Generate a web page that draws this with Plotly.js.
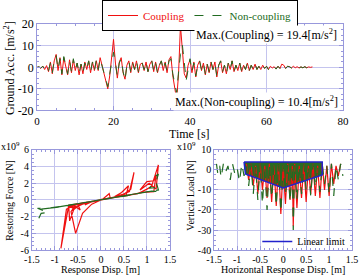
<!DOCTYPE html>
<html>
<head>
<meta charset="utf-8">
<script src="https://cdn.plot.ly/plotly-3.0.1.min.js"></script>
<style>html,body{margin:0;padding:0;background:#fff;}#chart{width:363px;height:276px;}</style>
</head>
<body>
<div id="chart"></div>
<script>
// ---- Ground acceleration time histories (m/s^2), sampled every 0.5 s from t = 0 ----
const coupling = [
  0, 0.2, -0.5, 0.6, -1, 0.8, -2, 2.5, -3, 3,
  6, -1.5, 4.5, -3.5, 4.5, 1, -3.5, 3.5, -2.5, 3.5,
  -1.5, 2, -3.5, 1.5, -3, 2.5, -1, 3, -2.5, 2.5,
  -1.5, 3, -1.5, 4.5, 0.5, -3.5, -6, -10, -4, 4,
  13, 2, -5, 2.5, 4.5, -2.5, -5.5, 1, 3, -2.5,
  2.5, -1, 3, -2.5, 1.5, 2, -1.5, 2.5, -2, 1.5,
  3, -2, 2.5, -2.5, 1, 3, -1.5, 2.5, -2.5, 3.5,
  5, -4, -9, -15, -3, 19.4, 8, -3, -5, 1,
  3.5, -2.5, 2.5, -4.5, 1, 3, -1.5, 2, -3.5, 1.5,
  -2.5, 2.5, -1, 2.5, -4.5, 1, 3, -2.5, 1, -3,
  2, -1, 3, -2, 1, -1.5, 2, -2, 1, -1,
  2, -1.5, 1, -1, 1.5, -1, 0.5, -1, 1, -0.5,
  0.5, -1, 0.5, -0.3, 0.3, -0.8, 0.5, -0.5, 1.5, 1,
  -0.5, 0.5, 0.3, -0.3, 0.5, -0.2, 0.3, -0.3, 0.2, -0.2,
  0.3, -0.2, 0.2, 0, 0.2
];
const nonCoupling = [
  0, 0.3, -0.3, 0.5, -0.8, 0.6, -1.5, 2, -2.5, 3.5,
  5.5, -1, 4, -3, 5, 1, -3, 3, -2, 4,
  -1, 2, -3, 1.5, -2.5, 2, -1, 3, -2, 2.5,
  -1.5, 3.5, -1, 4, 1, -3, -5, -9, -3, 3,
  7, 2, -4, 2, 4, -2, -6, 1, 3, -2,
  2, -1, 3, -2, 1.5, 2, -1, 2.5, -2, 1,
  3, -1.5, 2, -2.5, 1, 3, -1, 2, -2, 3,
  4, -3, -7, -12, -2, 6, 10.4, 3, -6, -1,
  4, -2, 2, -4, 1, 3, -1, 2, -3, 1.5,
  -2, 2.5, -1, 2, -4, 1, 3, -2, 1, -3,
  2, -1, 3, -2, 1, -1.5, 2, -2, 1, -1,
  2, -1.5, 1, -1, 1.5, -1, 0.5, -1, 1, -0.5,
  0.5, -1, 0.5, -0.3, 0.3, -0.8, 0.5, -0.5, 1.5, 1,
  -0.5, 0.5, 0.3, -0.3, 0.5, -0.2, 0.3, -0.3, 0.2, -0.2,
  0.3, -0.2, 0.2, 0, 0.2
];
const timeStart = 0, timeStep = 0.5;

// ---- Restoring force (x10^9 N) vs response displacement (m) ----
const hystRedDisp = [0, 0.1, 0.2, 0.18, 0.05, -0.1, -0.25, -0.35, -0.2, -0.4,
  -0.5, -0.45, -0.6, -0.72, -0.6, -0.4, -0.2, 0, 0.2, 0.4,
  0.55, 0.6, 0.45, 0.3, 0.5, 0.65, 0.72, 0.62, 0.4, 0.1,
  -0.3, -0.55, -0.7, -0.87, -0.75, -0.55, -0.65, -0.55, -0.4, -0.2,
  0, 0.3, 0.6, 0.8, 1.0, 1.1, 1.25, 1.2, 1.05, 0.85,
  1.0, 1.15, 1.2, 1.15, 0.9, 0.6, 0.3, 0, -0.3, -0.6,
  -0.62, -0.45, -0.7, -0.68, -0.55, -0.3, 0];
const hystRedForce = [0, 0.15, 0.3, 0.75, 0.15, -0.1, -0.3, -0.6, -0.2, -0.4,
  -0.55, -1.2, -0.6, -0.7, -1.0, -0.5, -0.2, 0, 0.25, 0.45,
  0.6, 1.7, 0.9, 0.4, 0.7, 1.3, 3.3, 1.0, 0.5, 0.1,
  -0.3, -0.5, -0.65, -5.8, -1.1, -0.6, -1.4, -4.0, -1.6, -0.5,
  0, 0.3, 0.55, 0.75, 1.3, 1.6, 4.2, 1.3, 2.0, 1.2,
  2.2, 2.3, 3.0, 1.0, 0.9, 0.55, 0.3, 0, -0.3, -0.6,
  -1.3, -0.5, -0.75, -2.5, -0.55, -0.35, 0];
const hystGreenDisp = [-1.35, -1.3, -1.15, -1.38, -1.2, -0.9, -0.5, 0, 0.5, 1.0,
  1.25, 1.22, 1.15, 1.25, 1.2, 1.05, 1.2, 1.27, 1.1, 0.6,
  0, -0.6, -1.0, -1.3, -1.1, -0.5, 0, 0.6, 1.1, 1.0];
const hystGreenForce = [-2.2, -1.6, -1.5, -1.0, -1.05, -0.85, -0.45, 0, 0.5, 0.95,
  1.2, 1.8, 2.7, 3.1, 2.2, 1.4, 1.5, 1.0, 1.05, 0.6,
  0, -0.55, -0.9, -1.1, -0.95, -0.45, 0, 0.55, 1.1, 1.0];

// ---- Vertical load (x10^9 N) vs horizontal response displacement (m) ----
const vertRedDisp = [-0.8, -0.75, -0.7, -0.65, -0.6, -0.55, -0.5, -0.45, -0.4, -0.35,
  -0.3, -0.25, -0.2, -0.15, -0.1, -0.05, 0, 0.05, 0.1, 0.15,
  0.2, 0.22, 0.25, 0.3, 0.35, 0.4, 0.45, 0.5, 0.55, 0.6,
  0.65, 0.7, 0.75, 0.8, 0.85, 0.9, 0.95, 1.0, 1.05, 1.1,
  1.15, 1.2, 1.25];
const vertRedLoad = [3, -5, 3, -8, 2, -12, 3, -10, 2, -14,
  3, -16, 2, -18, 3, -22, 2, -17, 3, -15,
  2, -28, 3, -19, 2, -14, 3, -16, 2, -12,
  3, -13, 2, -14, 3, -10, 2, -13, 3, -7,
  2, -3, 3];
const vertGreenDisp = [-1.45, -1.42, -1.38, -1.35, -1.3, -1.25, -1.2, -1.15, -1.1, -1.05,
  -1.0, -0.95, -0.9, -0.85, -0.8, -0.75, -0.7, -0.65, -0.6, -0.55,
  -0.5, -0.45, -0.4, -0.35, -0.3, -0.25, -0.2, -0.15, -0.1, -0.05,
  0, 0.05, 0.1, 0.15, 0.2, 0.22, 0.25, 0.3, 0.35, 0.4,
  0.45, 0.5, 0.55, 0.6, 0.65, 0.7, 0.75, 0.8, 0.85, 0.9,
  0.95, 1.0, 1.05, 1.1, 1.15, 1.2, 1.25, 1.3];
const vertGreenLoad = [3, -2, 2, -4, 3, -1, 2, -5, 3, -2,
  1, -6, 3, -3, 2, -8, 3, -12, 2, -15,
  3, -17, 2, -20, 3, -14, 2, -18, 3, -21,
  2, -12, 3, -16, 2, -30, 3, -15, 2, -12,
  3, -10, 2, -13, 3, -9, 2, -11, 3, -7,
  2, -12, 3, -13, 2, -5, 3, -3];
const limitDisp = [-0.85, 0.85, 0.85, 0, -0.82, -0.85];
const limitLoad = [4, 4, -2.5, -9, -2, 4];

// ---- tick labels ----
const accTicks = [-20, -10, 0, 10, 20];
const accTickText = ['-20', '-10', '0', '10', '20'];
const timeTicks = [0, 20, 40, 60, 80];
const timeTickText = ['0', '20', '40', '60', '80'];
const dispTicks = [-1.5, -1, -0.5, 0, 0.5, 1, 1.5];
const dispTickText = ['-1.5', '-1', '-0.5', '0', '0.5', '1', '1.5'];
const forceTicks = [-6, -4, -2, 0, 2, 4, 6];
const forceTickText = ['-6', '-4', '-2', '0', '2', '4', '6'];
const loadTicks = [-40, -30, -20, -10, 0, 10];
const loadTickText = ['-40', '-30', '-20', '-10', '0', '10'];

const RED = '#f01010', GREEN = '#216b21', BLUE = '#2222cc';
const SERIF = '"Liberation Serif", serif';
const GRID = '#c4c4ee', FRAME = '#9898dc';

const traces = [
  {x0: timeStart, dx: timeStep, y: coupling, type: 'scatter', mode: 'lines',
   name: '<span style="color:#f01010">Coupling</span>', line: {color: RED, width: 1},
   xaxis: 'x', yaxis: 'y', legend: 'legend'},
  {x0: timeStart, dx: timeStep, y: nonCoupling, type: 'scatter', mode: 'lines',
   name: '<span style="color:#216b21">Non-coupling</span>', line: {color: GREEN, width: 1, dash: 'dash'},
   xaxis: 'x', yaxis: 'y', legend: 'legend'},
  {x: hystRedDisp, y: hystRedForce, type: 'scatter', mode: 'lines', showlegend: false,
   line: {color: RED, width: 1.2}, xaxis: 'x2', yaxis: 'y2'},
  {x: hystGreenDisp, y: hystGreenForce, type: 'scatter', mode: 'lines', showlegend: false,
   line: {color: GREEN, width: 1.2, dash: 'dash'}, xaxis: 'x2', yaxis: 'y2'},
  {x: limitDisp, y: limitLoad, type: 'scatter', mode: 'none', fill: 'toself', fillcolor: '#2a6a22',
   showlegend: false, xaxis: 'x3', yaxis: 'y3'},
  {x: vertRedDisp, y: vertRedLoad, type: 'scatter', mode: 'lines', showlegend: false,
   line: {color: RED, width: 1.2}, xaxis: 'x3', yaxis: 'y3'},
  {x: vertGreenDisp, y: vertGreenLoad, type: 'scatter', mode: 'lines', showlegend: false,
   line: {color: GREEN, width: 1.2, dash: 'dash'}, xaxis: 'x3', yaxis: 'y3'},
  {x: limitDisp, y: limitLoad, type: 'scatter', mode: 'lines', name: 'Linear limit',
   line: {color: BLUE, width: 1.5}, xaxis: 'x3', yaxis: 'y3', legend: 'legend2'}
];

function ax(extra, size, minorStep) {
  return Object.assign({
    showgrid: true, gridcolor: GRID, gridwidth: 1, zeroline: false,
    showline: true, linecolor: FRAME, linewidth: 1, mirror: 'allticks',
    ticks: 'inside', ticklen: 4, tickcolor: FRAME,
    tickfont: {family: SERIF, size: size, color: '#000'},
    minor: {ticks: 'inside', ticklen: 2, tickcolor: FRAME, dtick: minorStep, showgrid: false},
    fixedrange: true
  }, extra);
}

function title(text, x, y, size, angle) {
  return {xref: 'paper', yref: 'paper', x: x, y: y, xanchor: 'center', yanchor: 'middle',
    showarrow: false, text: text, textangle: angle || 0, font: {family: SERIF, size: size, color: '#000'}};
}

const layout = {
  width: 363, height: 276,
  margin: {l: 0, r: 0, t: 0, b: 0},
  paper_bgcolor: '#fff', plot_bgcolor: '#fff',
  font: {family: SERIF, color: '#000'},
  xaxis: ax({domain: [0.102, 0.945], range: [0, 80], anchor: 'y', tickvals: timeTicks, ticktext: timeTickText}, 11, 5),
  yaxis: ax({domain: [0.6, 0.912], range: [-20, 20], anchor: 'x', tickvals: accTicks, ticktext: accTickText}, 12, 2.5),
  xaxis2: ax({domain: [0.088, 0.468], range: [-1.5, 1.5], anchor: 'y2', tickvals: dispTicks, ticktext: dispTickText}, 10, 0.1),
  yaxis2: ax({domain: [0.094, 0.457], range: [-6, 6], anchor: 'x2', tickvals: forceTicks, ticktext: forceTickText}, 10, 0.5),
  xaxis3: ax({domain: [0.59, 0.97], range: [-1.5, 1.5], anchor: 'y3', tickvals: dispTicks, ticktext: dispTickText}, 10, 0.1),
  yaxis3: ax({domain: [0.094, 0.457], range: [-40, 10], anchor: 'x3', tickvals: loadTicks, ticktext: loadTickText}, 10, 2.5),
  legend: {orientation: 'h', x: 0.551, xanchor: 'center', y: 1.0, yanchor: 'top',
    bordercolor: '#000', borderwidth: 1, bgcolor: '#fff',
    font: {family: SERIF, size: 11}, tracegroupgap: 0, itemwidth: 30},
  legend2: {x: 0.965, xanchor: 'right', y: 0.125, yanchor: 'middle', bgcolor: 'rgba(0,0,0,0)',
    borderwidth: 0, font: {family: SERIF, size: 10}},
  annotations: [
    title('Time [s]', 0.523, 0.516, 12),
    title('Ground Acc. [m/s<sup>2</sup>]', 0.026, 0.755, 12, -90),
    title('Response Disp. [m]', 0.278, 0.024, 10),
    title('Restoring Force [N]', 0.024, 0.275, 10, -90),
    title('Horizontal Response Disp. [m]', 0.78, 0.024, 10),
    title('Vertical Load [N]', 0.525, 0.293, 10, -90),
    {xref: 'paper', yref: 'paper', x: 0.935, y: 0.874, xanchor: 'right', yanchor: 'middle', showarrow: false,
     text: 'Max.(Coupling) = 19.4[m/s<sup>2</sup>]', font: {family: SERIF, size: 12}, bgcolor: '#fff'},
    {xref: 'paper', yref: 'paper', x: 0.938, y: 0.632, xanchor: 'right', yanchor: 'middle', showarrow: false,
     text: 'Max.(Non-coupling) = 10.4[m/s<sup>2</sup>]', font: {family: SERIF, size: 12}, bgcolor: '#fff'},
    {xref: 'paper', yref: 'paper', x: 0.061, y: 0.47, xanchor: 'right', yanchor: 'middle', showarrow: false,
     text: 'x10<sup>9</sup>', font: {family: SERIF, size: 10}},
    {xref: 'paper', yref: 'paper', x: 0.545, y: 0.47, xanchor: 'right', yanchor: 'middle', showarrow: false,
     text: 'x10<sup>9</sup>', font: {family: SERIF, size: 10}}
  ]
};

Plotly.newPlot('chart', traces, layout, {displayModeBar: false, staticPlot: true});
</script>
</body>
</html>
